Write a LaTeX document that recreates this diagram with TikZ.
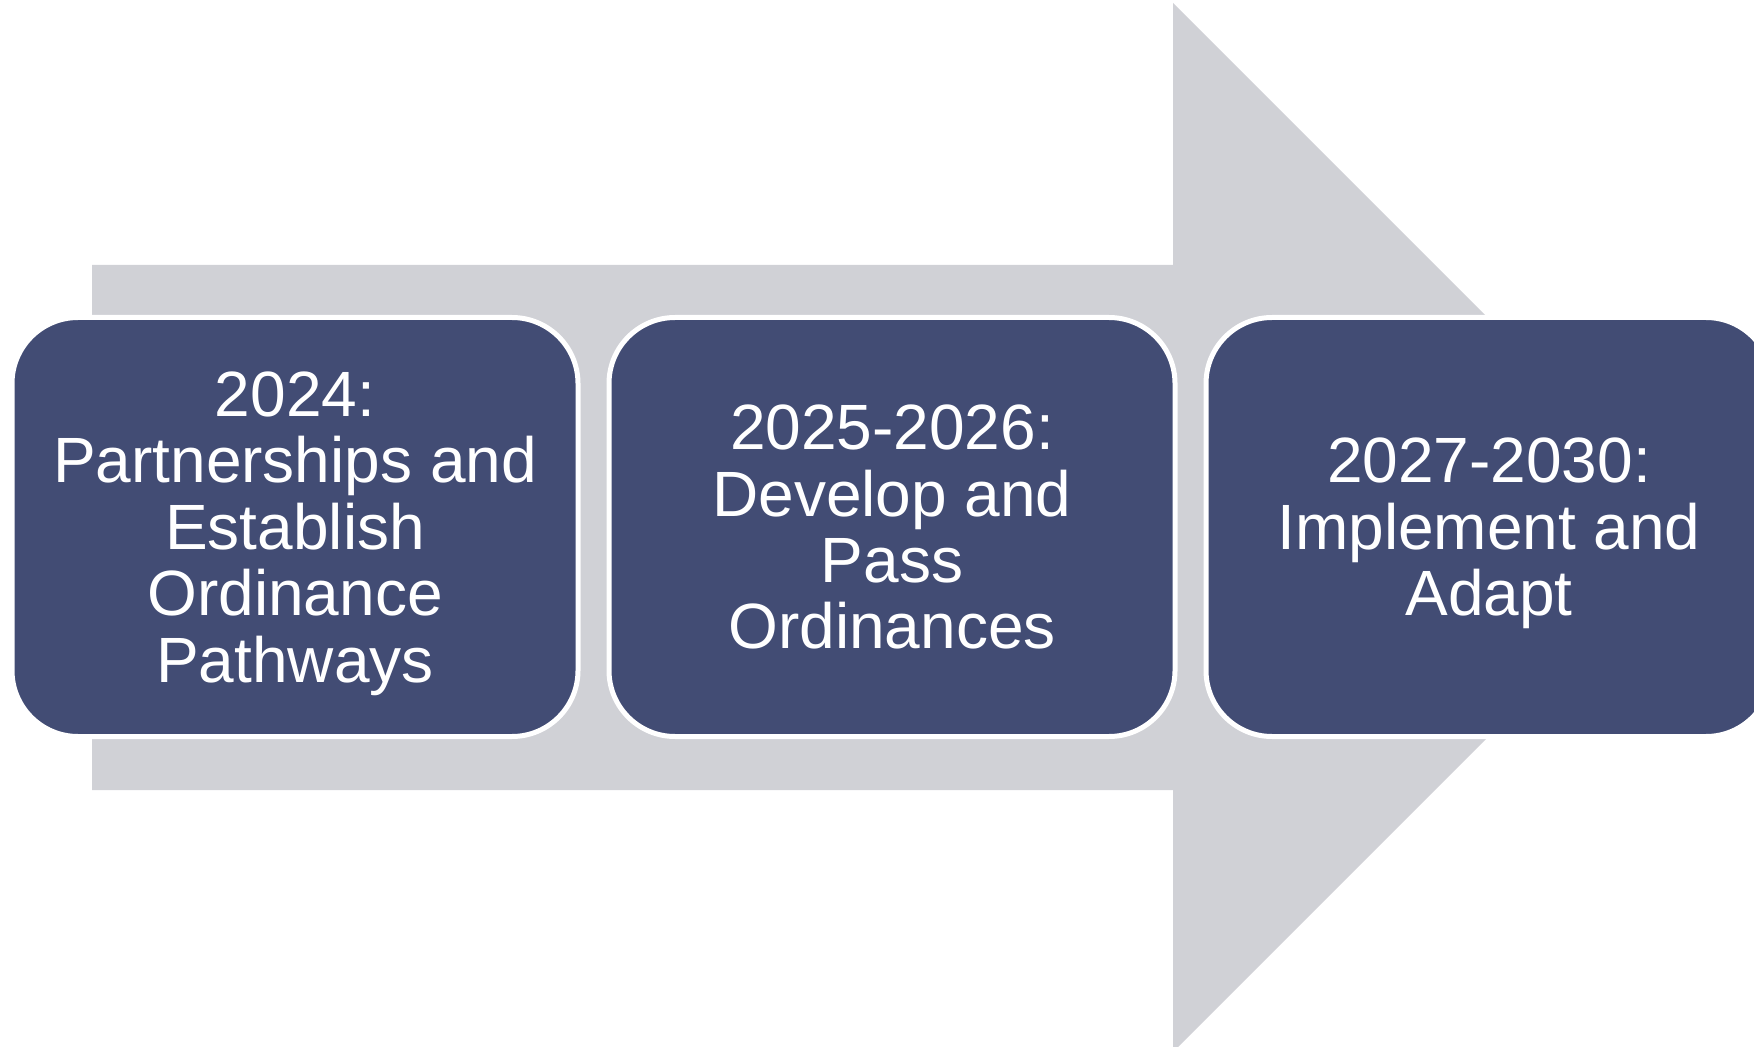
\documentclass[tikz,border=0pt]{standalone}
\usepackage{fontspec}
\setmainfont{Liberation Sans}
\usetikzlibrary{positioning}
\definecolor{stageblue}{RGB}{66,76,116}
\definecolor{arrowgrey}{RGB}{208,209,214}

\begin{document}
\begin{tikzpicture}[x=0.5pt,y=-0.5pt,line join=round]
  \tikzset{stage/.style={draw=white,line width=2.5pt,fill=stageblue,rounded corners=33pt,
      minimum width=283pt,minimum height=209.5pt,outer sep=0pt,inner sep=0pt,
      text depth=0pt,
      align=center,text=white,font=\fontsize{32}{33.2}\selectfont}}

  \path[use as bounding box] (0,0) rectangle (1754,1047);
  \clip (0,0) rectangle (1754,1047);

  % big arrow behind the stages
  \fill[arrowgrey] (92,265) -- (1173,265) -- (1173,3) -- (1697.5,527.5)
    -- (1173,1052) -- (1173,790) -- (92,790) -- cycle;

  \node[stage] (s1) at (295,527) {2024:\\Partnerships and\\Establish\\Ordinance\\Pathways};
  \node[stage,right=15.5pt of s1] (s2) {2025-2026:\\Develop and\\Pass\\Ordinances};
  \node[stage,right=15.5pt of s2] (s3) {2027-2030:\\Implement and\\Adapt};
\end{tikzpicture}
\end{document}
